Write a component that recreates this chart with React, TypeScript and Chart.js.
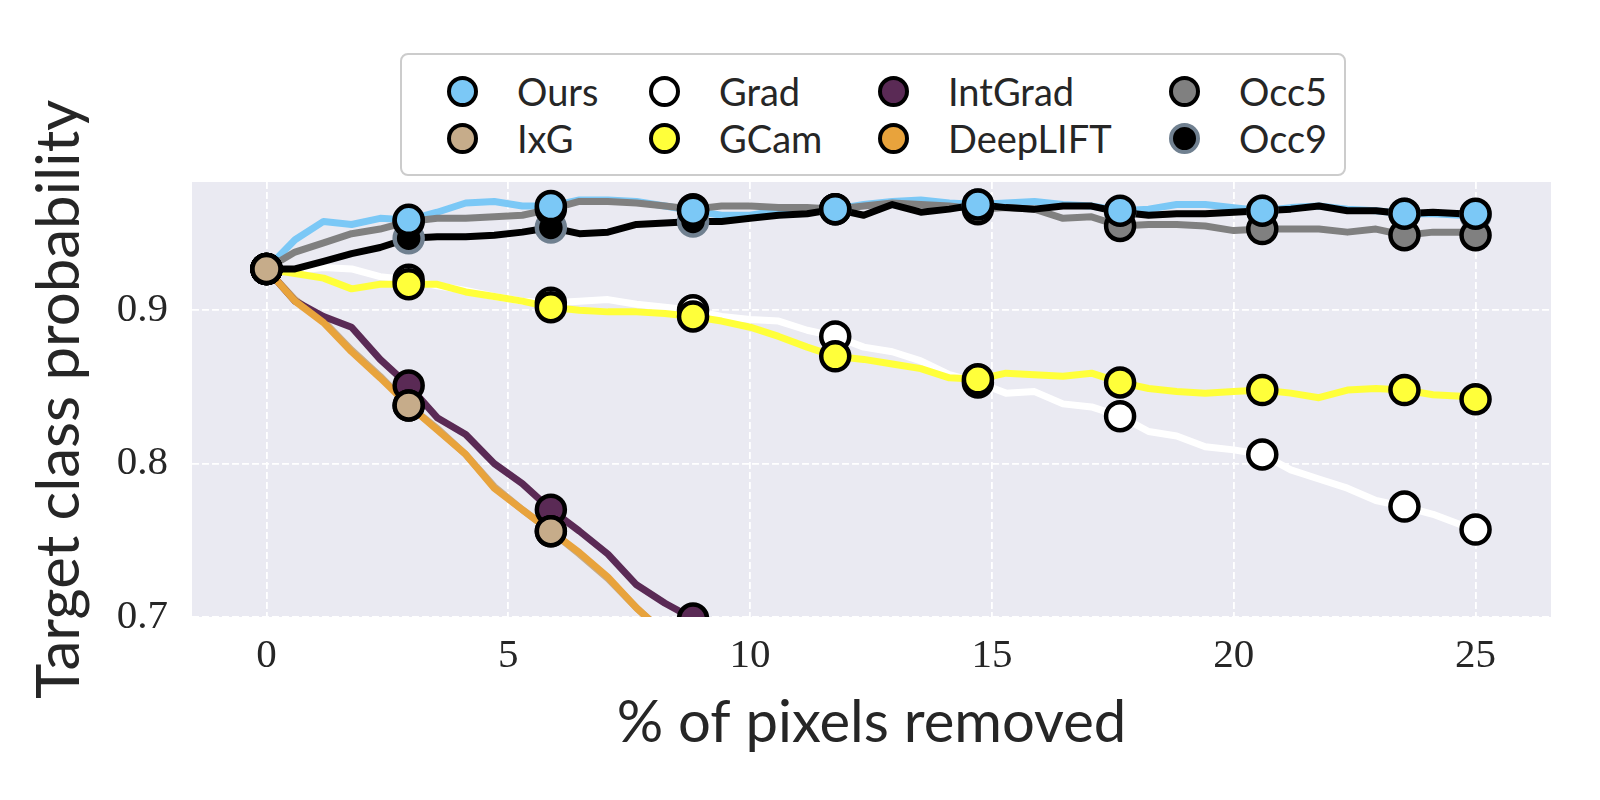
import { useEffect, useRef } from "react";
import Chart from "chart.js/auto";

// sampled curve positions (% of pixels removed)
const pctRemoved = [
  0, 0.59, 1.18, 1.76, 2.35, 2.94, 3.53, 4.12, 4.71, 5.29, 5.88, 6.47, 7.06, 7.65, 8.24,
  8.82, 9.41, 10.0, 10.59, 11.18, 11.76, 12.35, 12.94, 13.53, 14.12, 14.71, 15.29, 15.88,
  16.47, 17.06, 17.65, 18.24, 18.82, 19.41, 20.0, 20.59, 21.18, 21.76, 22.35, 22.94, 23.53,
  24.12, 24.71, 25,
];

const ours = [
  0.927, 0.946, 0.958, 0.956, 0.96, 0.959, 0.964, 0.97, 0.971, 0.968, 0.968, 0.972, 0.972,
  0.971, 0.968, 0.965, 0.962, 0.962, 0.965, 0.966, 0.966, 0.969, 0.971, 0.972, 0.97, 0.969,
  0.97, 0.971, 0.969, 0.968, 0.965, 0.966, 0.969, 0.969, 0.967, 0.965, 0.967, 0.968, 0.966,
  0.965, 0.963, 0.963, 0.962, 0.963,
];
const occ5 = [
  0.927, 0.938, 0.944, 0.95, 0.953, 0.958, 0.96, 0.96, 0.961, 0.962, 0.966, 0.971, 0.971,
  0.97, 0.968, 0.966, 0.968, 0.968, 0.967, 0.967, 0.966, 0.968, 0.97, 0.969, 0.968, 0.966,
  0.967, 0.966, 0.96, 0.961, 0.955, 0.956, 0.956, 0.955, 0.952, 0.953, 0.953, 0.953, 0.951,
  0.953, 0.949, 0.951, 0.951, 0.949,
];
const occ9 = [
  0.927, 0.927, 0.932, 0.937, 0.941, 0.947, 0.948, 0.948, 0.949, 0.951, 0.954, 0.95, 0.951,
  0.956, 0.957, 0.958, 0.958, 0.96, 0.962, 0.963, 0.966, 0.962, 0.969, 0.964, 0.966, 0.969,
  0.967, 0.966, 0.968, 0.968, 0.964, 0.962, 0.963, 0.963, 0.964, 0.965, 0.966, 0.968, 0.965,
  0.965, 0.963, 0.964, 0.963, 0.962,
];
const grad = [
  0.927, 0.926, 0.928, 0.927, 0.922, 0.92, 0.916, 0.913, 0.909, 0.906, 0.905, 0.906, 0.907,
  0.904, 0.902, 0.9, 0.896, 0.894, 0.893, 0.887, 0.883, 0.876, 0.873, 0.867, 0.858, 0.853,
  0.846, 0.847, 0.839, 0.837, 0.831, 0.821, 0.818, 0.811, 0.809, 0.806, 0.796, 0.79, 0.784,
  0.776, 0.772, 0.767, 0.76, 0.757,
];
const gcam = [
  0.927, 0.924, 0.921, 0.914, 0.917, 0.917, 0.917, 0.912, 0.909, 0.906, 0.902, 0.9, 0.899,
  0.899, 0.898, 0.896, 0.893, 0.889, 0.883, 0.876, 0.87, 0.868, 0.865, 0.862, 0.856, 0.855,
  0.859, 0.858, 0.857, 0.859, 0.853, 0.849, 0.847, 0.846, 0.847, 0.848, 0.846, 0.843, 0.848,
  0.849, 0.848, 0.845, 0.844, 0.842,
];
const intGrad = [
  0.927, 0.906, 0.896, 0.889, 0.868, 0.851, 0.83, 0.819, 0.8, 0.787, 0.77, 0.756, 0.741,
  0.721, 0.709, 0.699, 0.686, 0.674,
];
const deepLift = [
  0.927, 0.906, 0.892, 0.873, 0.856, 0.838, 0.822, 0.806, 0.784, 0.77, 0.756, 0.742, 0.726,
  0.706, 0.689, 0.672,
];
const ixg = [
  0.927, 0.907, 0.893, 0.874, 0.857, 0.838, 0.823, 0.806, 0.785, 0.77, 0.756, 0.741, 0.725,
  0.706, 0.689, 0.671,
];

const xTicks = [0, 5, 10, 15, 20, 25];
const yTicks = [0.7, 0.8, 0.9];
// curve points that carry a marker
const markerAt = [0, 5, 10, 15, 20, 25, 30, 35, 40, 43];

const SANS = "Lato, 'Noto Sans', sans-serif";
const SERIF = "'Liberation Serif', 'DejaVu Serif', serif";
const TEXT = "#262626";

const methods = {
  Ours: { values: ours, line: "#7BC8F6", fill: "#7BC8F6", edge: "#000000" },
  IxG: { values: ixg, line: "#C6AC8A", fill: "#C6AC8A", edge: "#000000" },
  Grad: { values: grad, line: "#FFFFFF", fill: "#FFFFFF", edge: "#000000" },
  GCam: { values: gcam, line: "#FFFF3A", fill: "#FFFF3A", edge: "#000000" },
  IntGrad: { values: intGrad, line: "#5A2A55", fill: "#5A2A55", edge: "#000000" },
  DeepLIFT: { values: deepLift, line: "#E8A33C", fill: "#E8A33C", edge: "#000000" },
  Occ5: { values: occ5, line: "#808080", fill: "#808080", edge: "#000000" },
  Occ9: { values: occ9, line: "#000000", fill: "#000000", edge: "#708090" },
};

// bottom -> top
const lineLayer = ["IxG", "Ours", "Occ5", "Grad", "GCam", "IntGrad", "DeepLIFT", "Occ9"];
const markerLayer = ["Occ9", "Occ5", "IntGrad", "DeepLIFT", "Grad", "GCam", "Ours", "IxG"];

const legendColumns = [
  ["Ours", "IxG"],
  ["Grad", "GCam"],
  ["IntGrad", "DeepLIFT"],
  ["Occ5", "Occ9"],
];
const legendColX = [61, 263, 492, 783];
const legendRowY = [37, 84];

const plotBackground = {
  id: "plotBackground",
  beforeDraw(chart) {
    const { ctx, chartArea } = chart;
    ctx.save();
    ctx.fillStyle = "#EAEAF2";
    ctx.fillRect(chartArea.left, chartArea.top, chartArea.width, chartArea.height);
    ctx.restore();
  },
};

function Legend() {
  return (
    <div
      style={{
        position: "absolute",
        left: 400,
        top: 53,
        width: 942,
        height: 119,
        border: "2px solid #CCCCCC",
        borderRadius: 8,
        background: "#FFFFFF",
        fontFamily: SANS,
        fontSize: 38,
        color: TEXT,
      }}
    >
      {legendColumns.map((col, c) =>
        col.map((name, r) => {
          const m = methods[name];
          return (
            <div key={name}>
              <div
                style={{
                  position: "absolute",
                  left: legendColX[c] - 16,
                  top: legendRowY[r] - 16,
                  width: 23,
                  height: 23,
                  borderRadius: "50%",
                  background: m.fill,
                  border: `4.5px solid ${m.edge}`,
                }}
              />
              <div
                style={{
                  position: "absolute",
                  left: legendColX[c] + 54,
                  top: legendRowY[r] - 24,
                  lineHeight: "46px",
                  whiteSpace: "nowrap",
                }}
              >
                {name}
              </div>
            </div>
          );
        })
      )}
    </div>
  );
}

export default function App() {
  const canvasRef = useRef(null);
  const chartRef = useRef(null);

  useEffect(() => {
    if (chartRef.current) {
      chartRef.current.destroy();
    }

    const datasets = [];
    lineLayer.forEach((name, k) => {
      const m = methods[name];
      datasets.push({
        label: name,
        data: m.values.map((y, i) => ({ x: pctRemoved[i], y })),
        borderColor: m.line,
        borderWidth: 7,
        borderJoinStyle: "round",
        borderCapStyle: "round",
        pointRadius: 0,
        pointHoverRadius: 0,
        fill: false,
        clip: 0,
        order: 100 - k,
      });
    });
    markerLayer.forEach((name, k) => {
      const m = methods[name];
      datasets.push({
        label: name + " markers",
        data: markerAt
          .filter((i) => i < m.values.length)
          .map((i) => ({ x: pctRemoved[i], y: m.values[i] })),
        showLine: false,
        pointStyle: "circle",
        pointRadius: 14,
        pointHoverRadius: 14,
        pointBorderWidth: 4.5,
        pointBackgroundColor: m.fill,
        pointBorderColor: m.edge,
        clip: 0,
        order: 50 - k,
      });
    });

    chartRef.current = new Chart(canvasRef.current, {
      type: "line",
      data: { datasets },
      plugins: [plotBackground],
      options: {
        responsive: false,
        animation: false,
        events: [],
        layout: { padding: { top: 182, right: 49, left: 0, bottom: 0 } },
        plugins: {
          legend: { display: false },
          tooltip: { enabled: false },
        },
        scales: {
          x: {
            type: "linear",
            min: -1.54,
            max: 26.56,
            afterFit: (scale) => {
              scale.height = 183;
            },
            afterBuildTicks: (scale) => {
              scale.ticks = xTicks.map((value) => ({ value }));
            },
            grid: { color: "#FFFFFF", lineWidth: 1.8, drawTicks: false },
            border: { display: false, dash: [7, 3] },
            ticks: {
              padding: 15,
              color: TEXT,
              font: { family: SERIF, size: 41 },
              callback: (v) => String(v),
            },
            title: {
              display: true,
              text: "% of pixels removed",
              color: TEXT,
              font: { family: SANS, size: 58 },
              padding: { top: 0, bottom: 42 },
            },
          },
          y: {
            type: "linear",
            min: 0.7,
            max: 0.9837,
            afterFit: (scale) => {
              scale.width = 192;
            },
            afterBuildTicks: (scale) => {
              scale.ticks = yTicks.map((value) => ({ value }));
            },
            grid: { color: "#FFFFFF", lineWidth: 1.8, drawTicks: false },
            border: { display: false, dash: [7, 3] },
            ticks: {
              padding: 24,
              color: TEXT,
              font: { family: SERIF, size: 41 },
              callback: (v) => String(v),
            },
            title: {
              display: true,
              text: "Target class probability",
              color: TEXT,
              font: { family: SANS, size: 60 },
              padding: { top: 24, bottom: 0 },
            },
          },
        },
      },
    });

    return () => {
      if (chartRef.current) {
        chartRef.current.destroy();
        chartRef.current = null;
      }
    };
  }, []);

  return (
    <div style={{ position: "absolute", left: 0, top: 0, width: 1600, height: 800, background: "#FFFFFF" }}>
      <canvas ref={canvasRef} width={1600} height={800} />
      <Legend />
    </div>
  );
}
